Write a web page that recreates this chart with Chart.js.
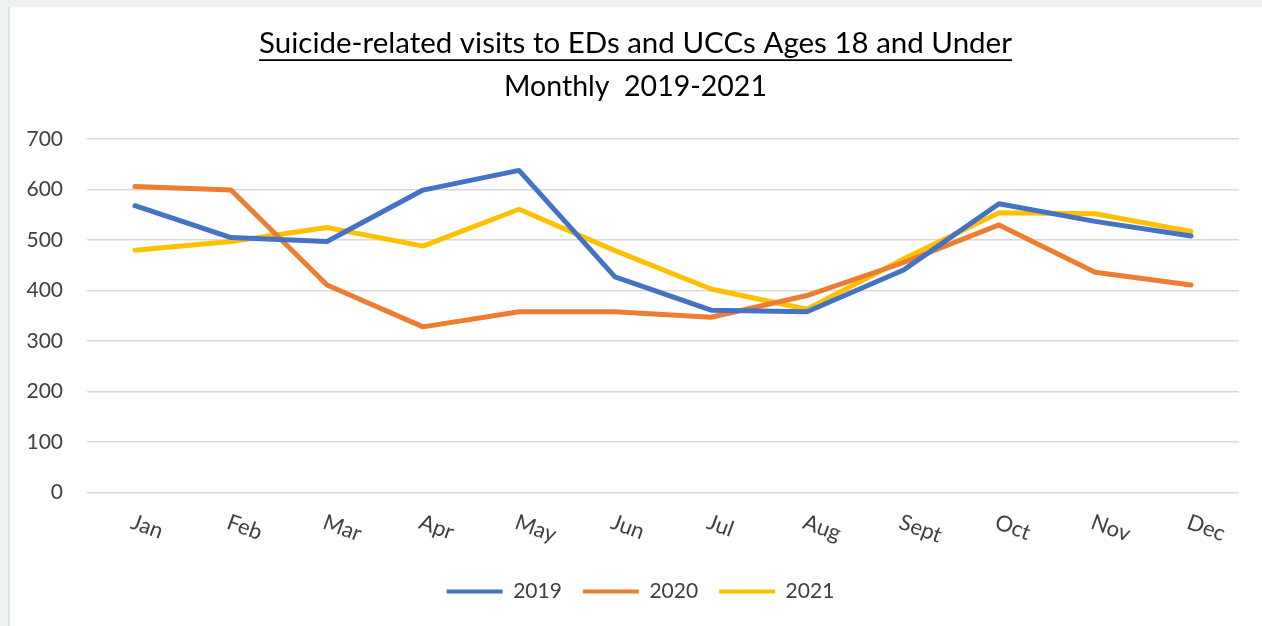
<!DOCTYPE html>
<html>
<head>
<meta charset="utf-8">
<script src="https://cdn.jsdelivr.net/npm/chart.js@4.4.1/dist/chart.umd.min.js"></script>
<style>
  html, body { margin: 0; padding: 0; background: #eef3f0; }
  #box { position: absolute; left: 8px; top: 7px; width: 1254px; height: 619px; background: #fff; }
  #box::before { content: ''; position: absolute; left: 0; top: 0; bottom: 0; width: 2px; background: #e2e6e4; }
  canvas { display: block; }
</style>
</head>
<body>
<div id="box"><canvas id="chart" width="1254" height="619"></canvas></div>
<script>
const months = ['Jan', 'Feb', 'Mar', 'Apr', 'May', 'Jun', 'Jul', 'Aug', 'Sept', 'Oct', 'Nov', 'Dec'];
const visits2019 = [568, 505, 497, 599, 638, 427, 361, 358, 440, 572, 537, 508];
const visits2020 = [606, 599, 411, 328, 358, 358, 347, 390, 455, 530, 436, 411];
const visits2021 = [480, 497, 525, 488, 561, 479, 403, 363, 462, 554, 552, 517];
const yTicks = [0, 100, 200, 300, 400, 500, 600, 700];

const FONT = 'Lato, "Open Sans", sans-serif';
const TEXT = '#404040';
const TITLE_PAD_TOP = 19;

// titles and legend sit a little right of the plot centre in the original
const nudgeBoxes = {
    id: 'nudgeBoxes',
    afterLayout(chart) {
        chart.boxes.forEach(b => {
            let dx = 0;
            if (b === chart.legend) dx = 17;
            else if (b.position === 'top') dx = 12;
            b.left += dx;
            b.right += dx;
        });
    }
};

// underline the first title line, Excel style
const underlineTitle = {
    id: 'underlineTitle',
    afterDraw(chart) {
        const t = chart.titleBlock;
        if (!t) return;
        const ctx = chart.ctx;
        const f = Chart.helpers.toFont(chart.options.plugins.title.font);
        ctx.save();
        ctx.font = f.string;
        const w = ctx.measureText(chart.options.plugins.title.text).width;
        const cx = (t.left + t.right) / 2;
        const y = t.top + TITLE_PAD_TOP + f.lineHeight / 2 + 16.5;
        ctx.strokeStyle = '#000';
        ctx.lineWidth = 1.8;
        ctx.beginPath();
        ctx.moveTo(cx - w / 2, y);
        ctx.lineTo(cx + w / 2, y);
        ctx.stroke();
        ctx.restore();
    }
};

// x labels sloping down to the right (Chart.js only rotates the other way)
const slantedLabels = {
    id: 'slantedLabels',
    afterDraw(chart) {
        const x = chart.scales.x;
        const ctx = chart.ctx;
        ctx.save();
        ctx.font = '22px ' + FONT;
        ctx.fillStyle = TEXT;
        ctx.textAlign = 'left';
        ctx.textBaseline = 'middle';
        months.forEach((m, i) => {
            ctx.save();
            ctx.translate(x.getPixelForTick(i) - 3, x.top + 29);
            ctx.rotate(20 * Math.PI / 180);
            ctx.fillText(m, 0, 0);
            ctx.restore();
        });
        ctx.restore();
    }
};

const line = (label, data, color) => ({
    label, data,
    borderColor: color,
    backgroundColor: color,
    borderWidth: 5,
    pointRadius: 0,
    tension: 0,
    borderCapStyle: 'round',
    borderJoinStyle: 'round'
});

new Chart(document.getElementById('chart'), {
    type: 'line',
    data: {
        labels: months,
        datasets: [
            line('2019', visits2019, '#4472C4'),
            line('2020', visits2020, '#ED7D31'),
            line('2021', visits2021, '#FFC000')
        ]
    },
    options: {
        responsive: false,
        animation: false,
        layout: { padding: { left: 0, right: 23, top: 0, bottom: 14 } },
        scales: {
            x: {
                offset: true,
                grid: { display: false },
                border: { display: false },
                ticks: { color: 'rgba(0,0,0,0)', padding: 22, font: { family: FONT, size: 13 }, maxRotation: 0 }
            },
            y: {
                min: 0,
                max: 700,
                afterBuildTicks: s => { s.ticks = yTicks.map(v => ({ value: v })); },
                afterFit: s => { s.width = 79; },
                grid: { color: '#d9d9d9', lineWidth: 1.5, drawTicks: false },
                border: { display: false },
                ticks: { color: TEXT, padding: 24, font: { family: FONT, size: 21 } }
            }
        },
        plugins: {
            title: {
                display: true,
                text: 'Suicide-related visits to EDs and UCCs Ages 18 and Under',
                color: '#000',
                font: { family: FONT, size: 29.5, weight: 'normal' },
                padding: { top: TITLE_PAD_TOP, bottom: 4 }
            },
            subtitle: {
                display: true,
                text: 'Monthly  2019-2021',
                color: '#000',
                font: { family: FONT, size: 28.5, weight: 'normal' },
                padding: { top: 4.5, bottom: 35 }
            },
            legend: {
                position: 'bottom',
                labels: {
                    boxWidth: 56,
                    boxHeight: 4,
                    useBorderRadius: true,
                    borderRadius: 2,
                    padding: 21,
                    color: TEXT,
                    font: { family: FONT, size: 21 },
                    generateLabels: chart => chart.data.datasets.map((d, i) => ({
                        text: d.label,
                        fillStyle: d.borderColor,
                        strokeStyle: d.borderColor,
                        lineWidth: 0,
                        fontColor: TEXT,
                        datasetIndex: i,
                        hidden: false
                    }))
                }
            },
            tooltip: { enabled: false }
        }
    },
    plugins: [nudgeBoxes, underlineTitle, slantedLabels]
});
</script>
</body>
</html>
